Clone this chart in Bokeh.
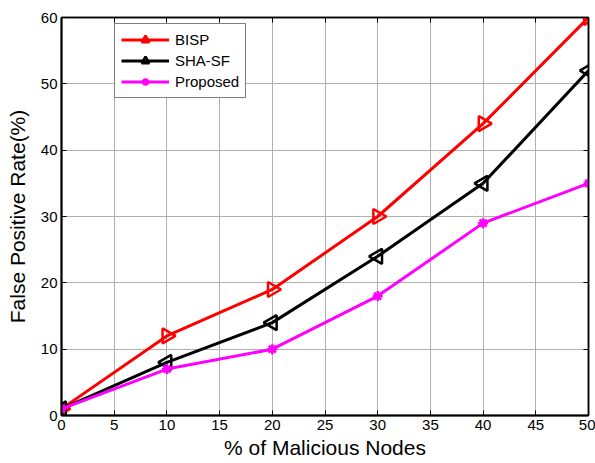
import numpy as np
from bokeh.plotting import figure
from bokeh.models import (LinearAxis, Range1d, FixedTicker, Legend, ColumnDataSource,
                          CustomJSTickFormatter)
from bokeh.embed import file_html
from bokeh.resources import INLINE

x_nodes = [0, 10, 20, 30, 40, 50]
bisp = [1, 12, 19, 30, 44, 60]
sha_sf = [1, 8, 14, 24, 35, 52]
proposed = [1, 7, 10, 18, 29, 35]
x_ticks = [0, 5, 10, 15, 20, 25, 30, 35, 40, 45, 50]
y_ticks = [0, 10, 20, 30, 40, 50, 60]

FONT = "Liberation Sans"

p = figure(width=595, height=463, output_backend="svg", toolbar_location=None,
           x_range=Range1d(0, 50), y_range=Range1d(0, 60),
           min_border_left=61, min_border_right=7, min_border_top=17, min_border_bottom=48)
p.background_fill_color = "white"
p.border_fill_color = "white"
p.outline_line_color = "black"
p.outline_line_width = 1.5

for ax in (p.xaxis[0], p.yaxis[0]):
    ax.axis_line_width = 2
    ax.axis_line_color = "black"
    ax.major_tick_in = 5
    ax.major_tick_out = 0
    ax.minor_tick_line_color = None
    ax.major_label_text_font = FONT
    ax.major_label_text_font_size = "15px"
    ax.major_label_text_color = "black"
    ax.axis_label_text_font = FONT
    ax.axis_label_text_font_size = "21px"
    ax.axis_label_text_font_style = "normal"
    ax.axis_label_text_color = "black"

p.xaxis[0].ticker = FixedTicker(ticks=x_ticks)
p.yaxis[0].ticker = FixedTicker(ticks=y_ticks)
p.xaxis[0].axis_label = "% of Malicious Nodes"
p.yaxis[0].axis_label = "False Positive Rate(%)"
p.xaxis[0].major_label_standoff = 4
p.yaxis[0].major_label_standoff = 4
p.xaxis[0].axis_label_standoff = 3
p.yaxis[0].axis_label_standoff = 9

blank = CustomJSTickFormatter(code="return ''")
top = LinearAxis(ticker=FixedTicker(ticks=x_ticks), formatter=blank,
                 major_tick_in=5, major_tick_out=0, minor_tick_line_color=None,
                 axis_line_width=1.5, major_label_standoff=0)
right = LinearAxis(ticker=FixedTicker(ticks=y_ticks), formatter=blank,
                   major_tick_in=5, major_tick_out=0, minor_tick_line_color=None,
                   axis_line_width=1.5, major_label_standoff=0)
p.add_layout(top, "above")
p.add_layout(right, "right")

p.grid.grid_line_color = "#b0b0b0"
p.grid.grid_line_width = 1
p.xgrid.ticker = FixedTicker(ticks=x_ticks)
p.ygrid.ticker = FixedTicker(ticks=y_ticks)

series = [
    ("BISP", bisp, "#ff0000", "triangle", -np.pi / 2, 15),
    ("SHA-SF", sha_sf, "#000000", "triangle", np.pi / 2, 15),
    ("Proposed", proposed, "#ff00ff", "asterisk", 0, 10),
]
items = []
for label, ys, color, marker, ang, size in series:
    src = ColumnDataSource(dict(x=x_nodes, y=ys, a=[ang] * len(ys)))
    r1 = p.line("x", "y", source=src, line_color=color, line_width=3)
    r2 = p.scatter("x", "y", source=src, marker=marker, angle="a", size=size,
                   line_color=color, fill_color="white",
                   fill_alpha=0 if marker == "triangle" else 1, line_width=2.5)
    items.append((label, [r1, r2]))

legend = Legend(items=items, location=(53, 317))
legend.label_text_font = FONT
legend.label_text_font_size = "15px"
legend.label_text_color = "black"
legend.glyph_width = 48
legend.glyph_height = 19
legend.label_height = 19
legend.spacing = 2
legend.padding = 6
legend.margin = 0
legend.label_standoff = 6
legend.border_line_color = "black"
legend.border_line_width = 1.5
legend.background_fill_color = "white"
legend.background_fill_alpha = 1
p.add_layout(legend, "center")

open("out.html", "w").write(file_html(p, INLINE))
